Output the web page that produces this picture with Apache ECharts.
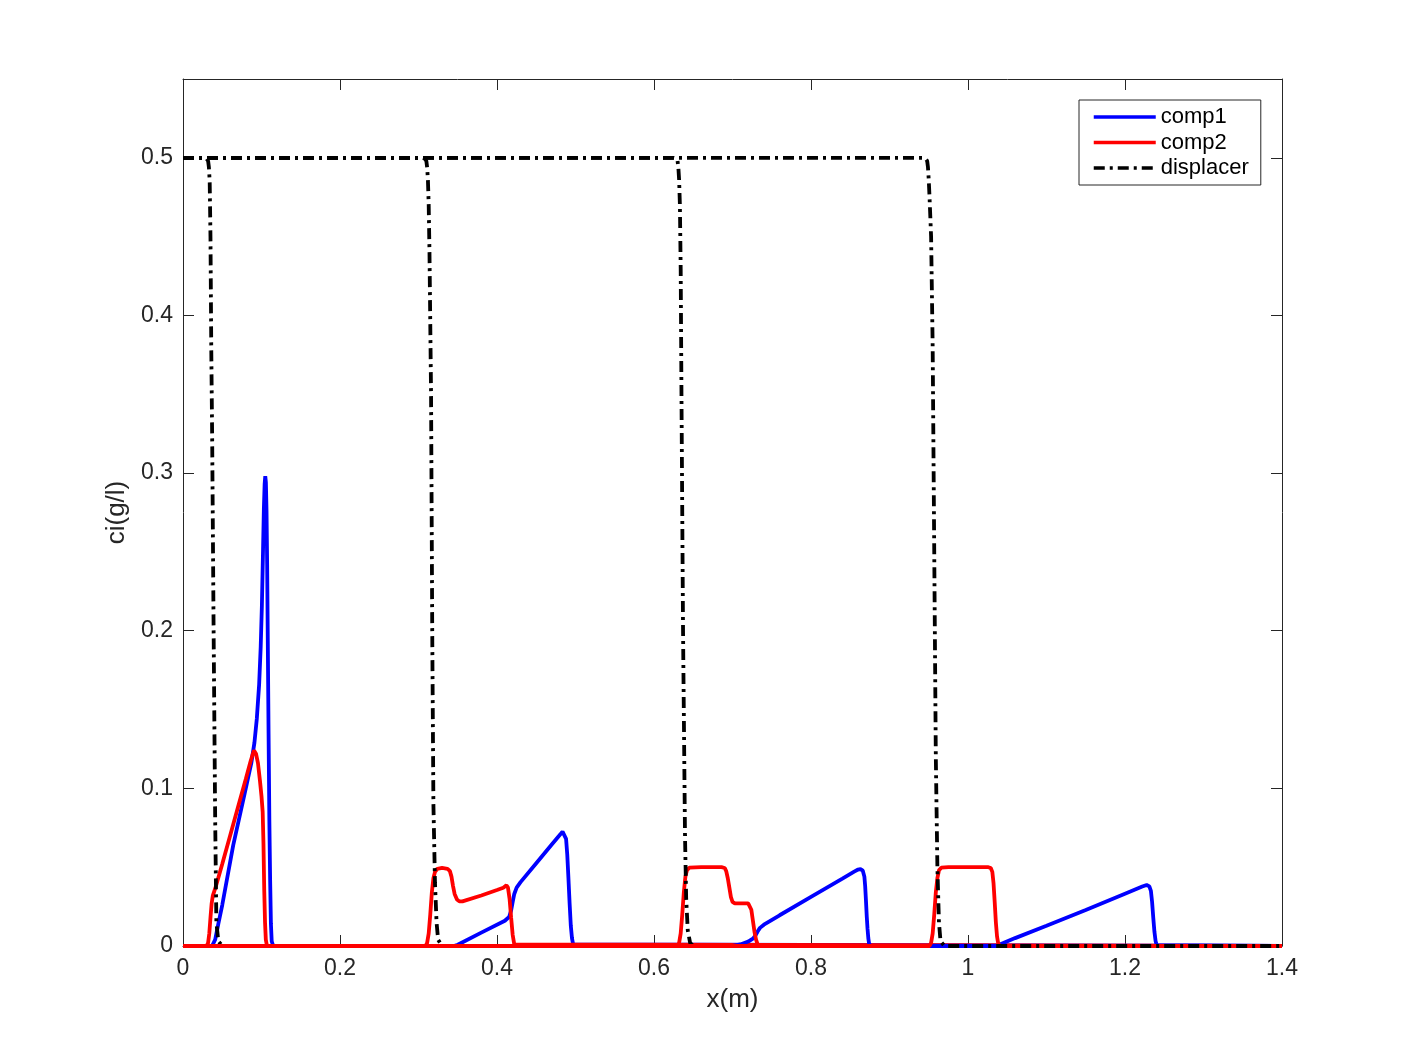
<!DOCTYPE html>
<html>
<head>
<meta charset="utf-8">
<script src="https://cdn.jsdelivr.net/npm/echarts@6.0.0/dist/echarts.min.js"></script>
<style>
  html, body { margin: 0; padding: 0; background: #fff; }
  #chart { width: 1417px; height: 1063px; }
</style>
</head>
<body>
<div id="chart"></div>
<script>
// tick labels
const xTicks = [0, 0.2, 0.4, 0.6, 0.8, 1, 1.2, 1.4];
const yTicks = [0, 0.1, 0.2, 0.3, 0.4, 0.5];

// comp1 profiles (4 snapshots)
const comp1_t1 = [[0, 0], [0.037, 0], [0.039, 0.001], [0.041, 0.004], [0.045, 0.014], [0.05, 0.026], [0.064, 0.064], [0.08, 0.1], [0.087, 0.116], [0.091, 0.129], [0.094, 0.144], [0.097, 0.166], [0.099, 0.19], [0.1005, 0.216], [0.102, 0.252], [0.103, 0.277], [0.104, 0.293], [0.1048, 0.298], [0.1056, 0.294], [0.1064, 0.276], [0.1072, 0.242], [0.108, 0.194], [0.109, 0.135], [0.110, 0.08], [0.111, 0.042], [0.112, 0.014], [0.113, 0.003], [0.115, 0], [1.4, 0]];
const comp1_t2 = [[0, 0], [0.345, 0], [0.35, 0.0008], [0.38, 0.0085], [0.41, 0.016], [0.4155, 0.0185], [0.418, 0.0225], [0.42, 0.028], [0.422, 0.033], [0.425, 0.037], [0.43, 0.0405], [0.45, 0.0525], [0.47, 0.0645], [0.481, 0.071], [0.4835, 0.0725], [0.486, 0.072], [0.488, 0.068], [0.4895, 0.058], [0.491, 0.043], [0.4925, 0.027], [0.494, 0.013], [0.4955, 0.005], [0.497, 0.001], [0.499, 0], [1.4, 0]];
const comp1_t3 = [[0, 0], [0.698, 0], [0.71, 0.001], [0.72, 0.0028], [0.726, 0.0047], [0.729, 0.0065], [0.732, 0.0092], [0.735, 0.0115], [0.74, 0.0135], [0.76, 0.0195], [0.80, 0.0312], [0.84, 0.0428], [0.855, 0.0472], [0.86, 0.0485], [0.863, 0.0488], [0.866, 0.0478], [0.868, 0.044], [0.869, 0.038], [0.870, 0.029], [0.871, 0.019], [0.872, 0.011], [0.873, 0.005], [0.874, 0.0015], [0.876, 0], [1.4, 0]];
const comp1_t4 = [[0, 0], [1.036, 0], [1.039, 0.0005], [1.042, 0.0013], [1.06, 0.005], [1.10, 0.0128], [1.15, 0.0229], [1.20, 0.0332], [1.222, 0.0377], [1.2276, 0.0387], [1.231, 0.0378], [1.233, 0.035], [1.2345, 0.028], [1.236, 0.018], [1.2375, 0.009], [1.239, 0.003], [1.2405, 0.0005], [1.243, 0], [1.4, 0]];

// comp2 profiles
const comp2_t1 = [[0, 0], [0.030, 0], [0.032, 0.002], [0.0335, 0.008], [0.035, 0.018], [0.0365, 0.027], [0.038, 0.032], [0.040, 0.035], [0.042, 0.038], [0.05, 0.052], [0.06, 0.07], [0.07, 0.088], [0.08, 0.106], [0.086, 0.117], [0.089, 0.122], [0.0905, 0.124], [0.093, 0.122], [0.0955, 0.116], [0.098, 0.105], [0.1, 0.095], [0.1015, 0.085], [0.1025, 0.065], [0.1035, 0.035], [0.1045, 0.015], [0.1055, 0.004], [0.107, 0], [1.4, 0]];
const comp2_t2 = [[0, 0], [0.309, 0], [0.311, 0.002], [0.313, 0.008], [0.315, 0.02], [0.317, 0.034], [0.319, 0.043], [0.321, 0.047], [0.324, 0.049], [0.33, 0.0495], [0.337, 0.049], [0.34, 0.0475], [0.342, 0.044], [0.344, 0.038], [0.346, 0.033], [0.349, 0.0295], [0.352, 0.0283], [0.356, 0.0283], [0.38, 0.032], [0.40, 0.0355], [0.408, 0.037], [0.412, 0.0385], [0.414, 0.037], [0.416, 0.03], [0.418, 0.018], [0.42, 0.007], [0.422, 0.001], [0.424, 0], [1.4, 0]];
const comp2_t3 = [[0, 0], [0.630, 0], [0.632, 0.002], [0.634, 0.008], [0.636, 0.02], [0.638, 0.034], [0.640, 0.044], [0.642, 0.048], [0.645, 0.0497], [0.66, 0.05], [0.686, 0.05], [0.69, 0.0495], [0.692, 0.0475], [0.694, 0.043], [0.696, 0.037], [0.698, 0.031], [0.700, 0.028], [0.703, 0.027], [0.72, 0.027], [0.722, 0.0262], [0.724, 0.023], [0.726, 0.016], [0.728, 0.009], [0.730, 0.004], [0.732, 0.001], [0.735, 0], [1.4, 0]];
const comp2_t4 = [[0, 0], [0.951, 0], [0.953, 0.002], [0.955, 0.008], [0.957, 0.02], [0.959, 0.034], [0.961, 0.043], [0.963, 0.048], [0.966, 0.0497], [0.975, 0.05], [1.026, 0.05], [1.029, 0.0495], [1.031, 0.047], [1.0325, 0.04], [1.034, 0.028], [1.0355, 0.015], [1.037, 0.006], [1.0385, 0.0015], [1.041, 0], [1.4, 0]];

// displacer profiles
const disp_t1 = [[0, 0.5], [0.027, 0.5], [0.030, 0.4995], [0.032, 0.498], [0.033, 0.494], [0.034, 0.485], [0.035, 0.45], [0.036, 0.38], [0.0372, 0.32], [0.039, 0.2], [0.041, 0.08], [0.0425, 0.015], [0.045, 0.003], [0.05, 0], [1.4, 0]];
const disp_t2 = [[0, 0.5], [0.305, 0.5], [0.308, 0.4995], [0.310, 0.498], [0.311, 0.494], [0.312, 0.486], [0.313, 0.47], [0.314, 0.44], [0.316, 0.35], [0.3175, 0.2], [0.319, 0.09], [0.321, 0.04], [0.323, 0.015], [0.325, 0.004], [0.33, 0], [1.4, 0]];
const disp_t3 = [[0, 0.5], [0.625, 0.5], [0.628, 0.4995], [0.630, 0.498], [0.631, 0.494], [0.632, 0.486], [0.633, 0.47], [0.634, 0.43], [0.635, 0.35], [0.637, 0.2], [0.6395, 0.07], [0.641, 0.03], [0.643, 0.01], [0.646, 0.002], [0.65, 0], [1.4, 0]];
const disp_t4 = [[0, 0.5], [0.943, 0.5], [0.946, 0.4995], [0.948, 0.498], [0.949, 0.494], [0.950, 0.486], [0.951, 0.475], [0.953, 0.45], [0.955, 0.38], [0.957, 0.25], [0.959, 0.12], [0.961, 0.05], [0.963, 0.015], [0.965, 0.003], [0.97, 0], [1.4, 0]];

const snapshots = [
  [comp1_t1, comp2_t1, disp_t1],
  [comp1_t2, comp2_t2, disp_t2],
  [comp1_t3, comp2_t3, disp_t3],
  [comp1_t4, comp2_t4, disp_t4]
];

const font = "'Liberation Sans', Arial, sans-serif";
const axisColor = "#262626";
const lw = 3.8;

function lineSeries(name, data, color, type) {
  return {
    name: name,
    type: "line",
    data: data,
    showSymbol: false,
    symbol: "none",
    animation: false,
    color: color,
    lineStyle: { color: color, width: lw, type: type || "solid" }
  };
}

const series = [];
snapshots.forEach(function (s) {
  series.push(lineSeries("comp1", s[0], "#0000ff"));
  series.push(lineSeries("comp2", s[1], "#ff0000"));
  series.push(lineSeries("displacer", s[2], "#000000", [11, 5, 3, 5]));
});

const baseAxis = {
  type: "value",
  axisLine: { show: true, onZero: false, lineStyle: { color: axisColor, width: 1 } },
  axisTick: { show: true, inside: true, length: 11, lineStyle: { color: axisColor, width: 1 } },
  splitLine: { show: false }
};

const option = {
  backgroundColor: "#fff",
  animation: false,
  grid: { left: 183, right: 135, top: 79, bottom: 117, containLabel: false },
  legend: {
    data: ["comp1", "comp2", "displacer"],
    orient: "vertical",
    left: 1079,
    top: 100,
    itemWidth: 62,
    itemHeight: 22,
    itemGap: 3.5,
    padding: [6, 12, 6, 13],
    borderColor: axisColor,
    borderWidth: 1,
    backgroundColor: "#fff",
    itemStyle: { opacity: 0 },
    lineStyle: { width: 3.5 },
    textStyle: { fontFamily: font, fontSize: 22, color: "#000" }
  },
  xAxis: [
    Object.assign({}, baseAxis, {
      min: 0, max: 1.4, interval: 0.2,
      position: "bottom",
      name: "x(m)",
      nameLocation: "middle",
      nameGap: 41,
      nameTextStyle: { fontFamily: font, fontSize: 26, color: axisColor },
      axisLabel: { margin: 11, fontFamily: font, fontSize: 23, color: axisColor }
    }),
    Object.assign({}, baseAxis, {
      min: 0, max: 1.4, interval: 0.2,
      position: "top",
      axisLabel: { show: false }
    })
  ],
  yAxis: [
    Object.assign({}, baseAxis, {
      min: 0, max: 0.55, interval: 0.1,
      position: "left",
      name: "ci(g/l)",
      nameLocation: "middle",
      nameGap: 48,
      nameTextStyle: { fontFamily: font, fontSize: 26, color: axisColor },
      axisLabel: { margin: 10, showMaxLabel: false, fontFamily: font, fontSize: 23, color: axisColor }
    }),
    Object.assign({}, baseAxis, {
      min: 0, max: 0.55, interval: 0.1,
      position: "right",
      axisLabel: { show: false }
    })
  ],
  series: series
};

const chart = echarts.init(document.getElementById("chart"));
chart.setOption(option);
</script>
</body>
</html>
